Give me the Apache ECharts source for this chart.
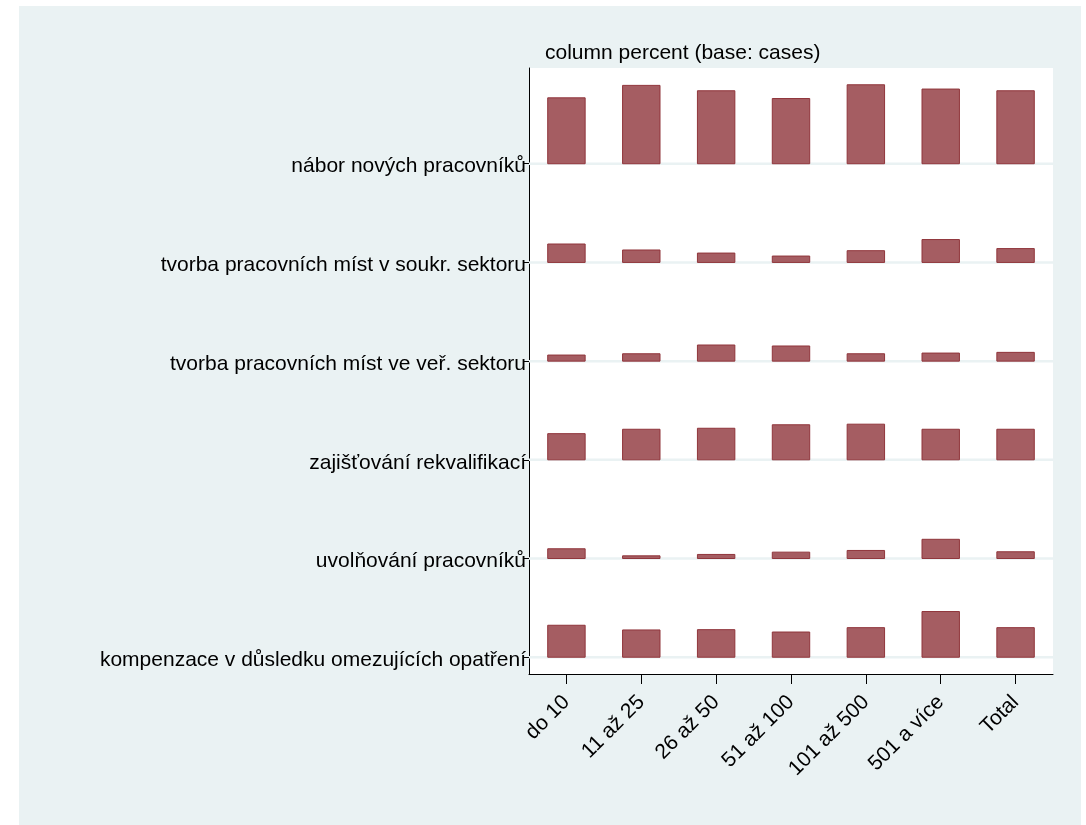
<!DOCTYPE html>
<html>
<head>
<meta charset="utf-8">
<script src="https://cdn.jsdelivr.net/npm/echarts@6/dist/echarts.min.js"></script>
<style>
  html, body { margin: 0; padding: 0; background: #ffffff; }
  #chart { width: 1086px; height: 825px; }
</style>
</head>
<body>
<div id="chart"></div>
<script>
// Column categories (x axis)
const columns = ['do 10', '11 až 25', '26 až 50', '51 až 100', '101 až 500', '501 a více', 'Total'];

// Row categories, top to bottom as shown
const rowLabels = [
  'nábor nových pracovníků',
  'tvorba pracovních míst v soukr. sektoru',
  'tvorba pracovních míst ve veř. sektoru',
  'zajišťování rekvalifikací',
  'uvolňování pracovníků',
  'kompenzace v důsledku omezujících opatření'
];

// Column percent values per row (order of columns)
const naborNovych      = [66.2, 78.7, 73.3, 65.5, 79.3, 75.0, 73.3];
const tvorbaSoukr      = [18.5, 12.5,  9.4,  6.4, 11.8, 23.0, 13.9];
const tvorbaVer        = [ 6.1,  7.4, 16.2, 15.2,  7.4,  8.1,  8.8];
const rekvalifikace    = [26.3, 30.7, 31.7, 35.2, 35.8, 30.7, 30.7];
const uvolnovani       = [ 9.8,  2.7,  4.1,  6.4,  8.1, 19.3,  6.8];
const kompenzace       = [32.1, 27.4, 27.7, 25.3, 29.7, 45.9, 29.7];

const rowValues = [naborNovych, tvorbaSoukr, tvorbaVer, rekvalifikace, uvolnovani, kompenzace];

// Build data: row position 6 = top row ... 1 = bottom row
const nRows = rowLabels.length;
const allVals = rowValues.flat();
const maxVal = Math.max.apply(null, allVals);
const barData = [];
rowValues.forEach(function (vals, ri) {
  const rowPos = nRows - ri;
  vals.forEach(function (v, ci) {
    barData.push([ci, rowPos, v / maxVal * 0.8, v]);
  });
});
const rowPositions = rowLabels.map(function (_, ri) { return nRows - ri; });
// label anchors sit a hair below the tick, as in the reference
const labelPositions = rowPositions.map(function (p) { return p - 0.03; });
const gridData = rowPositions.map(function (p) { return [0, p]; });

const FONT = "'Liberation Sans', Arial, Helvetica, sans-serif";

const chart = echarts.init(document.getElementById('chart'), null, { renderer: 'canvas' });

chart.setOption({
  backgroundColor: '#ffffff',
  animation: false,
  graphic: [{
    type: 'rect',
    z: -100,
    silent: true,
    shape: { x: 19, y: 6, width: 1062, height: 819 },
    style: { fill: '#EAF2F3' }
  }],
  title: {
    text: 'column percent (base: cases)',
    left: 540,
    top: 38,
    textStyle: { fontFamily: FONT, fontSize: 21, fontWeight: 'normal', color: '#000000' }
  },
  grid: {
    left: 529, right: 33, top: 68, bottom: 151,
    show: true, backgroundColor: '#ffffff', borderWidth: 0,
    containLabel: false
  },
  xAxis: {
    type: 'category',
    data: columns,
    boundaryGap: true,
    axisLine: { show: true, onZero: false, lineStyle: { color: '#000000', width: 1 } },
    axisTick: { show: true, alignWithLabel: true, length: 10, lineStyle: { color: '#000000', width: 1 } },
    axisLabel: { rotate: 45, margin: 25, fontFamily: FONT, fontSize: 21, color: '#000000' },
    splitLine: { show: false }
  },
  yAxis: {
    type: 'value',
    min: 0.83,
    max: 6.97,
    axisLine: { show: true, lineStyle: { color: '#000000', width: 1 } },
    axisTick: { show: true, customValues: rowPositions, length: 5, lineStyle: { color: '#000000', width: 1 } },
    axisLabel: {
      customValues: labelPositions,
      margin: 3,
      fontFamily: FONT, fontSize: 21, color: '#000000',
      formatter: function (v) {
        const idx = nRows - Math.round(v);
        return rowLabels[idx] || '';
      }
    },
    splitLine: { show: false }
  },
  series: [
    {
      type: 'custom',
      name: 'grid',
      z: 1,
      silent: true,
      data: gridData,
      renderItem: function (params, api) {
        const cs = params.coordSys;
        const y = api.coord([0, api.value(1)])[1];
        return {
          type: 'line',
          shape: { x1: cs.x, y1: y, x2: cs.x + cs.width, y2: y },
          style: { stroke: '#EAF2F3', lineWidth: 2.5 }
        };
      }
    },
    {
      type: 'custom',
      name: 'bars',
      z: 2,
      data: barData,
      encode: { x: 0, y: 1 },
      renderItem: function (params, api) {
        const ci = api.value(0);
        const row = api.value(1);
        const h = api.value(2);
        const base = api.coord([ci, row]);
        const top = api.coord([ci, row + h]);
        const w = api.size([1, 0])[0] * 0.5;
        return {
          type: 'rect',
          shape: { x: base[0] - w / 2, y: top[1], width: w, height: base[1] - top[1] },
          style: { fill: '#A55D62', stroke: '#90353B', lineWidth: 1 }
        };
      }
    }
  ]
});
</script>
</body>
</html>
